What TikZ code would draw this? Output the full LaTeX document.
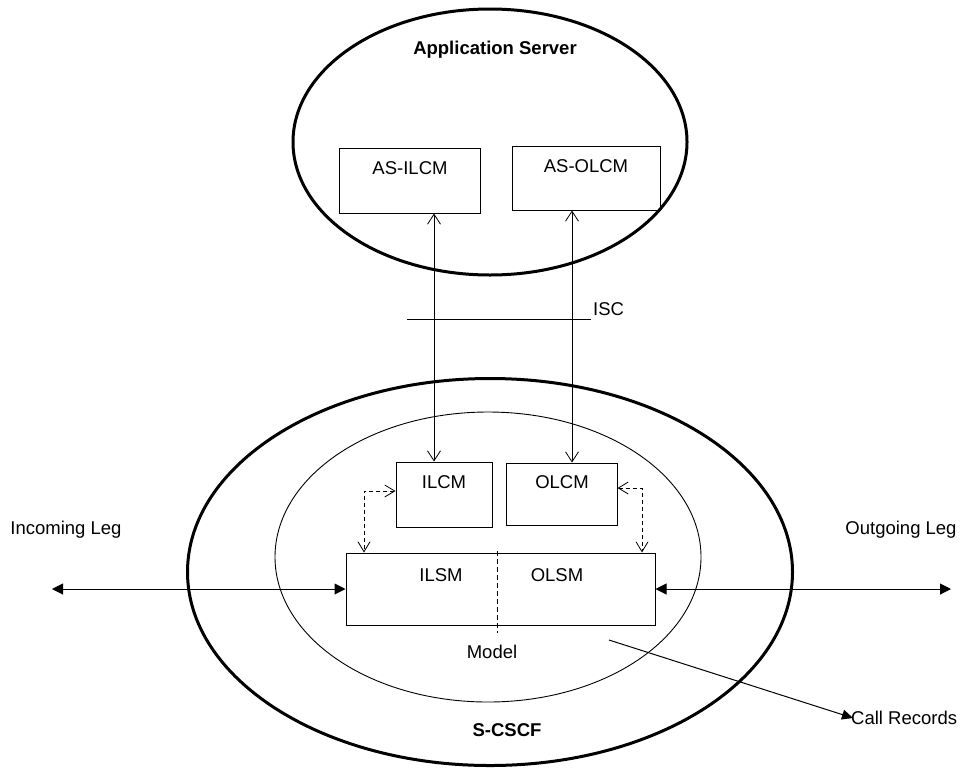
\documentclass[tikz,border=0pt]{standalone}
\usepackage{fontspec}
\setmainfont{Liberation Sans}
\usetikzlibrary{arrows.meta,shapes.geometric}
\begin{document}
\begin{tikzpicture}[x=1pt,y=-1pt,
  txt/.style={inner sep=0pt,font=\fontsize{18.5}{21}\selectfont},
  btxt/.style={inner sep=0pt,font=\fontsize{18.5}{21}\selectfont\bfseries},
  thickell/.style={draw,ellipse,line width=3pt,inner sep=0pt},
  thinell/.style={draw,ellipse,line width=0.9pt,inner sep=0pt},
  box/.style={draw,rectangle,line width=1pt,inner sep=0pt},
  openarr/.style={line width=0.8pt,{Straight Barb[length=10pt,width=13pt]}-{Straight Barb[length=10pt,width=13pt]}},
  dasharr/.style={line width=0.8pt,dashed,dash pattern=on 4pt off 3pt,{Straight Barb[length=10pt,width=12pt]}-{Straight Barb[length=10pt,width=12pt]}},
  filledarr/.style={line width=1pt,{Triangle[length=11pt,width=11pt]}-{Triangle[length=11pt,width=11pt]}}
]
\useasboundingbox (0,0) rectangle (963,772);

% ellipses
\node[thickell,minimum width=394pt,minimum height=266pt] (as) at (490,142) {};
\node[thickell,minimum width=605pt,minimum height=387pt] (scscf) at (490,572) {};
\node[thinell,minimum width=426pt,minimum height=290pt] (inner) at (488,557) {};

% boxes
\node[box,minimum width=141pt,minimum height=65pt] (asilcm) at (409.5,180.5) {};
\node[box,minimum width=148pt,minimum height=64pt] (asolcm) at (586,178) {};
\node[box,minimum width=96pt,minimum height=65pt] (ilcm) at (444,494.5) {};
\node[box,minimum width=111pt,minimum height=62pt] (olcm) at (561.5,494) {};
\node[box,minimum width=309pt,minimum height=72pt] (main) at (500.5,589) {};

% labels
\node[btxt] (astitle) at (495,50) {Application Server};
\node[btxt] (scscftitle) at (507,730) {S-CSCF};
\node[txt] (asilcmlbl) at (410,168) {AS-ILCM};
\node[txt] (asolcmlbl) at (586,166) {AS-OLCM};
\node[txt] (ilcmlbl) at (444,482) {ILCM};
\node[txt] (olcmlbl) at (562,482) {OLCM};
\node[txt] (ilsmlbl) at (441,575) {ILSM};
\node[txt] (olsmlbl) at (557,575) {OLSM};
\node[txt] (modellbl) at (492,652) {Model};
\node[txt] (inleg) at (66,530) {Incoming Leg};
\node[txt] (outleg) at (901,530) {Outgoing Leg};
\node[txt,anchor=west] (isclbl) at (593,309) {ISC};
\node[txt,anchor=west] (callrec) at (851,718) {Call Records};

% coordinates
\coordinate (iscL) at (407,319);
\coordinate (iscR) at (591,319);
\coordinate (inL) at (52,589);
\coordinate (outR) at (951,589);
\coordinate (divT) at (497,551);
\coordinate (divB) at (497,633);
\coordinate (crS) at (609,640);

% ISC line
\draw[line width=1pt] (iscL) -- (iscR);

% vertical arrows AS <-> S-CSCF
\draw[openarr] (asilcm.south -| 434,0) -- (ilcm.north -| 434,0);
\draw[openarr] (asolcm.south -| 572,0) -- (olcm.north -| 572,0);

% dashed arrows
\draw[dasharr] (ilcm.west |- 0,491) -| (main.north -| 364,0);
\draw[dasharr] (olcm.east |- 0,488) -| (main.north -| 642,0);

% divider
\draw[line width=0.8pt,dashed,dash pattern=on 5pt off 3pt] (divT) -- (divB);

% legs
\draw[filledarr] (inL) -- (main.west);
\draw[filledarr] (main.east) -- (outR);

% call records
\draw[line width=1pt,-{Triangle[length=11pt,width=10pt]}] (crS) -- ([xshift=2pt]callrec.west);
\end{tikzpicture}
\end{document}
